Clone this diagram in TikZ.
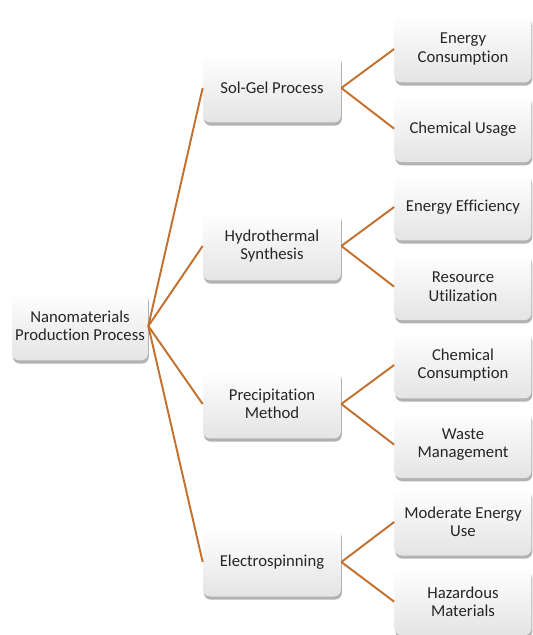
\documentclass[tikz,border=0pt]{standalone}
\usepackage{fontspec}
\setmainfont{Carlito}[Ligatures=NoCommon]
\usepackage{xcolor}
\usepackage{tikz}
\usetikzlibrary{positioning,shadows}
\definecolor{linkcol}{HTML}{C3702F}
\definecolor{boxtop}{HTML}{FFFFFF}
\definecolor{boxbot}{HTML}{E4E4E4}
\definecolor{txtcol}{HTML}{262626}

\begin{document}
\begin{tikzpicture}[x=0.02cm, y=-0.02cm,
  box/.style={rounded corners=4pt, minimum width=2.72cm, minimum height=1.38cm, align=center,
    font=\fontsize{9.5}{10.4}\selectfont, text=txtcol, top color=boxtop, bottom color=boxbot,
    drop shadow={shadow xshift=0.5pt, shadow yshift=-1.8pt, opacity=0.5, fill=black!60}},
  leaf/.style={box, minimum width=2.74cm, minimum height=1.34cm},
  link/.style={draw=linkcol, line width=1.1pt}
]
  \useasboundingbox (0,0) rectangle (533,635);

  % root
  \node[box, inner xsep=1pt] (root) at (80,326) {Nanomaterials\\Production Process};

  % methods
  \node[box, minimum width=2.76cm] (solgel) at (272,88) {Sol-Gel Process};
  \node[box, minimum width=2.76cm] (hydro) at (272,246) {Hydrothermal\\Synthesis};
  \node[box, minimum width=2.76cm] (precip) at (272,404) {Precipitation\\Method};
  \node[box, minimum width=2.76cm] (espin) at (272,562) {Electrospinning};

  % impacts
  \node[leaf] (energy) at (463,49) {Energy\\Consumption};
  \node[leaf, below=0.24cm of energy] (chem) {Chemical Usage};
  \node[leaf] (effic) at (463,207) {Energy Efficiency};
  \node[leaf, below=0.24cm of effic] (resource) {Resource\\Utilization};
  \node[leaf] (chemcons) at (463,365) {Chemical\\Consumption};
  \node[leaf, below=0.24cm of chemcons] (waste) {Waste\\Management};
  \node[leaf] (moderate) at (463,522) {Moderate Energy\\Use};
  \node[leaf, below=0.24cm of moderate] (hazard) {Hazardous\\Materials};

  \foreach \m in {solgel,hydro,precip,espin}
    \draw[link] (root.east) -- (\m.west);
  \foreach \m/\a/\b in {solgel/energy/chem, hydro/effic/resource, precip/chemcons/waste, espin/moderate/hazard} {
    \draw[link] (\m.east) -- (\a.west);
    \draw[link] (\m.east) -- (\b.west);
  }
\end{tikzpicture}
\end{document}
